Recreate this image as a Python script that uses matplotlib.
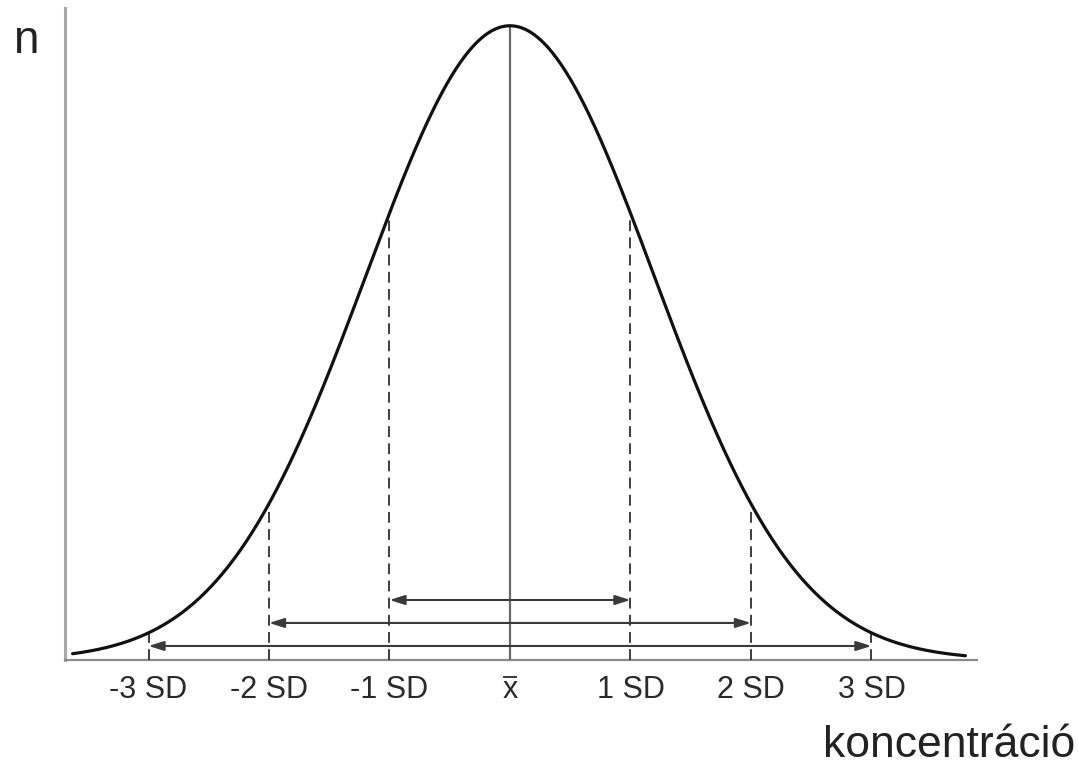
import numpy as np
import matplotlib
matplotlib.use('Agg')
import matplotlib.pyplot as plt

plt.rcParams['font.family'] = ['Liberation Sans', 'DejaVu Sans']

# SD marks along the x axis and their labels
sd_marks = [-3, -2, -1, 0, 1, 2, 3]
sd_labels = ['-3 SD', '-2 SD', '-1 SD', 'x', '1 SD', '2 SD', '3 SD']
# spread of the drawn bell, in SD units
curve_sigma = 1.195
curve_start, curve_end = -3.63, 3.78
# the three +/- k SD ranges shown with arrows
ranges = [1, 2, 3]


def bell(x):
    return np.exp(-0.5 * (np.asarray(x) / curve_sigma) ** 2)


W, H = 1078, 766
fig = plt.figure(figsize=(W / 100, H / 100), dpi=100)
ax = fig.add_axes([65 / W, (H - 660) / H, (977 - 65) / W, (660 - 8) / H])
ax.set_xlim(-3.693, 3.876)
ax.set_ylim(0, 1.028)

for s in ['top', 'right']:
    ax.spines[s].set_visible(False)
ax.spines['left'].set_color('#a8a8a8')
ax.spines['left'].set_linewidth(2.2)
ax.spines['bottom'].set_color('#8a8a8a')
ax.spines['bottom'].set_linewidth(1.6)
ax.set_xticks([])
ax.set_yticks([])

# the bell curve
xs = np.linspace(curve_start, curve_end, 600)
ax.plot(xs, bell(xs), color='#111111', lw=2.3, solid_capstyle='round', zorder=4)

# mean line and dashed SD lines up to the curve
for k in sd_marks:
    if k == 0:
        ax.plot([0, 0], [0, bell(0)], color='#6a6a6a', lw=1.6, zorder=3)
    else:
        ax.plot([k, k], [0, bell(k)], color='#2e2e2e', lw=1.3,
                linestyle=(0, (6, 3.5)), zorder=3)

# double-headed arrows for +/-1, 2, 3 SD
arrow_heights = {1: 0.0946, 2: 0.0584, 3: 0.0221}
for k in ranges:
    y = arrow_heights[k]
    ax.annotate('', xy=(k, y), xytext=(-k, y),
                arrowprops=dict(arrowstyle='<|-|>,head_length=0.7,head_width=0.22',
                                color='#3a3a3a', lw=1.5, mutation_scale=13,
                                shrinkA=0, shrinkB=0),
                zorder=5)

# labels under the axis
label_y = -0.047
for k, lab in zip(sd_marks, sd_labels):
    ax.text(k, label_y, lab, ha='center', va='center', fontsize=22,
            color='#2a2a2a', clip_on=False)
# bar over the mean's x
ax.plot([-0.062, 0.062], [-0.027, -0.027], color='#2a2a2a', lw=1.3,
        clip_on=False, solid_capstyle='butt')

fig.text(13 / W, 1 - 53 / H, 'n', fontsize=33, color='#222222',
         ha='left', va='baseline')
fig.text(1075 / W, 1 - 757 / H, 'koncentráció', fontsize=32, color='#222222',
         ha='right', va='baseline')

fig.savefig('out.png', dpi=100, facecolor='white')
